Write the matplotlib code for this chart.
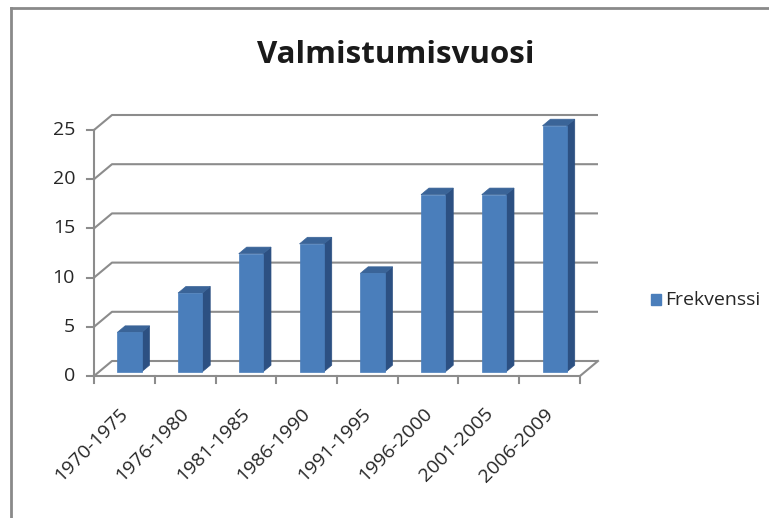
import matplotlib
matplotlib.use("Agg")
import matplotlib.pyplot as plt
from matplotlib.patches import Polygon
from matplotlib.lines import Line2D

categories = ["1970-1975", "1976-1980", "1981-1985", "1986-1990",
              "1991-1995", "1996-2000", "2001-2005", "2006-2009"]
values = [4, 8, 12, 13, 10, 18, 18, 25]
yticks = [0, 5, 10, 15, 20, 25]
title = "Valmistumisvuosi"
series_name = "Frekvenssi"

W, H = 769, 518
fig = plt.figure(figsize=(W / 100, H / 100), dpi=100)
ax = fig.add_axes([0, 0, 1, 1])
# pixel mapping
x0px, pxcat = 94.0, 60.75
y0px, pxval = 376.0, 9.84
ax.set_xlim((0 - x0px) / pxcat, (W - x0px) / pxcat)
ax.set_ylim((y0px - H) / pxval, (y0px - 0) / pxval)
ax.axis("off")

n = len(categories)
vmax = 25
DX, DY = 18 / pxcat, 15 / pxval  # full depth offset in data units

def P(x, v, d):
    return (x + d * DX, v + d * DY)

gcol = "#8c8c8c"
glw = 1.5
# back wall gridlines and side wall diagonals
for t in yticks:
    a = P(0, t, 0); b = P(0, t, 1); c = P(n, t, 1)
    ax.plot([a[0], b[0], c[0]], [a[1], b[1], c[1]], color=gcol, lw=glw,
            solid_capstyle="butt", zorder=1)
# floor
fl = [P(0, 0, 0), P(n, 0, 0), P(n, 0, 1)]
ax.plot([p[0] for p in fl], [p[1] for p in fl], color=gcol, lw=glw, zorder=1)
# y axis
ax.plot([0, 0], [0, vmax], color=gcol, lw=glw, zorder=1)
tk = 7 / pxcat
for t in yticks:
    ax.plot([-tk, 0], [t, t], color=gcol, lw=glw, zorder=1)
    ax.text(-19 / pxcat, t, str(t), ha="right", va="center", fontsize=14,
            family="Open Sans", color="#262626")
for i in range(n + 1):
    ax.plot([i, i], [0, -7 / pxval], color=gcol, lw=glw, zorder=1)

# bars
front_c, side_c, top_c = "#4A7EBB", "#2C5082", "#3A6498"
bw = 0.4
d0, d1 = 0.28, 0.72
for i, v in enumerate(values):
    xl, xr = i + 0.5 - bw / 2, i + 0.5 + bw / 2
    front = [P(xl, 0, d0), P(xr, 0, d0), P(xr, v, d0), P(xl, v, d0)]
    side = [P(xr, 0, d0), P(xr, 0, d1), P(xr, v, d1), P(xr, v, d0)]
    top = [P(xl, v, d0), P(xr, v, d0), P(xr, v, d1), P(xl, v, d1)]
    for poly, c in ((side, side_c), (top, top_c), (front, front_c)):
        ax.add_patch(Polygon(poly, closed=True, facecolor=c, edgecolor=c,
                             lw=0.5, zorder=3 + i))

# category labels
for i, lab in enumerate(categories):
    ax.text(i + 0.5 + 1 / pxcat, -35 / pxval, lab, rotation=45, ha="right",
            va="center", rotation_mode="anchor", fontsize=14,
            family="Open Sans", color="#262626")

# title
fig.text(396 / W, 1 - 55 / H, title, ha="center", va="center", fontsize=22.5,
         fontweight="bold", family="Open Sans", color="#1a1a1a")

# legend
fig.patches.append(Polygon([[(651) / W, 1 - 294 / H], [(661) / W, 1 - 294 / H],
                            [(661) / W, 1 - 305 / H], [(651) / W, 1 - 305 / H]],
                           closed=True, transform=fig.transFigure,
                           facecolor=front_c, edgecolor=front_c))
fig.text(665 / W, 1 - 300 / H, series_name, ha="left", va="center",
         fontsize=14, family="Open Sans", color="#262626")

# outer frame
fig.add_artist(Line2D([11 / W, 11 / W], [0, 1 - 8 / H], transform=fig.transFigure,
                      color="#8a8a8a", lw=2))
fig.add_artist(Line2D([11 / W, 1], [1 - 8 / H, 1 - 8 / H], transform=fig.transFigure,
                      color="#8a8a8a", lw=2))

fig.savefig("out.png", dpi=100)
